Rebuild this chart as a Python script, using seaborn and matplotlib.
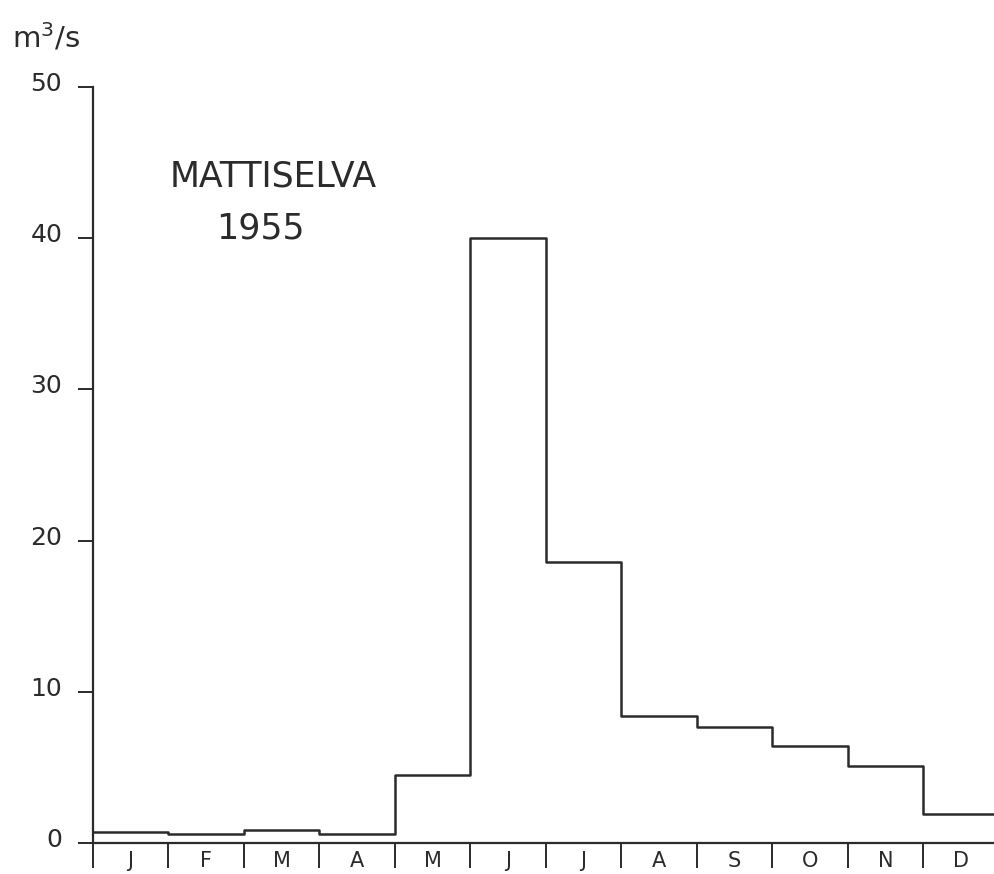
import numpy as np
import pandas as pd
import seaborn as sns
import matplotlib.pyplot as plt
from matplotlib.transforms import ScaledTranslation

# monthly mean discharge, Mattiselva 1955 (m3/s)
months = ["J", "F", "M", "A", "M", "J", "J", "A", "S", "O", "N", "D"]
discharge = [0.7, 0.6, 0.85, 0.6, 4.5, 40.0, 18.6, 8.4, 7.7, 6.4, 5.1, 1.9]
y_ticks = [0, 10, 20, 30, 40, 50]

sns.set_style("ticks")
plt.rcParams["font.family"] = ["DejaVu Sans"]

ink = "#2b2b2b"
df = pd.DataFrame({"month": np.arange(len(months)) + 0.5, "q": discharge})

fig = plt.figure(figsize=(9.95, 8.74), dpi=100)
ax = fig.add_axes([0.0932, 0.0355, 0.9106, 0.865])

sns.histplot(data=df, x="month", weights="q", bins=len(months),
             binrange=(0, len(months)), element="step", fill=False,
             color=ink, linewidth=1.8, ax=ax)

ax.set_xlim(0, len(months))
ax.set_ylim(0, 50)
ax.set_xlabel("")
ax.set_ylabel("")

sns.despine(ax=ax)
for side in ["left", "bottom"]:
    ax.spines[side].set_color(ink)
    ax.spines[side].set_linewidth(1.6)

ax.set_yticks(y_ticks)
ax.set_yticklabels([str(v) for v in y_ticks], fontsize=18, color=ink)
ax.tick_params(axis="y", direction="out", length=11, width=1.4, color=ink, pad=11)
# labels in the original sit a little above their tick
for lab in ax.get_yticklabels():
    lab.set_transform(lab.get_transform() + ScaledTranslation(0, 4 / 72, fig.dpi_scale_trans))

ax.set_xticks(np.arange(len(months)))
ax.set_xticklabels([])
ax.tick_params(axis="x", which="major", direction="out", length=18, width=1.4, color=ink)
ax.set_xticks(np.arange(len(months)) + 0.5, minor=True)
ax.set_xticklabels(months, minor=True, fontsize=15, color=ink)
ax.tick_params(axis="x", which="minor", length=0, pad=6)

fig.text(0.012, 0.957, "m$^3$/s", fontsize=21, color=ink, ha="left", va="center")
ax.text(0.275, 0.7975, "MATTISELVA", transform=fig.transFigure, fontsize=25,
        color=ink, ha="center", va="center")
ax.text(0.262, 0.739, "1955", transform=fig.transFigure, fontsize=25,
        color=ink, ha="center", va="center")

fig.savefig("out.png", dpi=100)
